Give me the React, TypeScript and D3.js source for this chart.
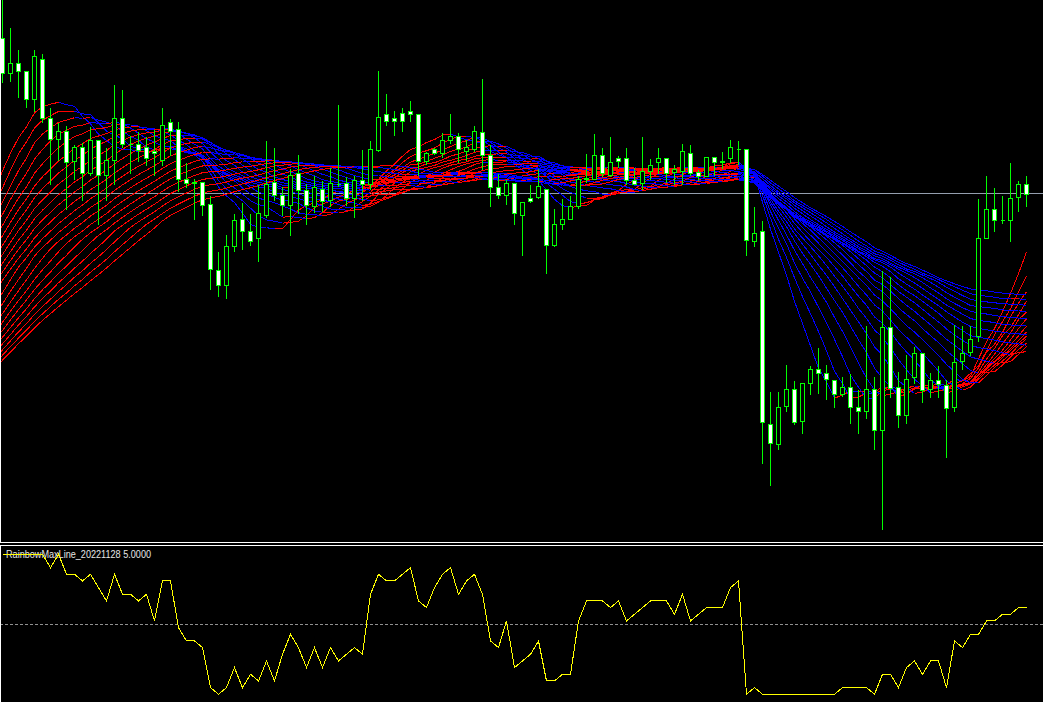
import React from "react";
import * as d3 from "d3";

// ---- Price data (visible bars, oldest first) ----
const opens = [562,527,536,528,501,541,481,461,469,439,453,427,460,425,440,481,456,455,453,448,440,477,470,421,418,418,396,329,315,354,381,368,361,385,418,404,395,426,410,393,411,400,416,417,401,420,416,450,486,481,487,488,485,439,451,447,459,463,449,451,468,445,412,405,417,385,402,403,411,355,375,381,393,421,421,445,425,441,441,419,417,429,437,441,428,429,447,428,423,443,437,441,451,451,359,369,175,156,194,211,179,217,230,227,219,205,213,193,189,211,170,273,213,185,223,247,211,219,215,193,239,248,263,362,391,379,379,403,416];
const highs = [605,572,551,530,551,546,493,477,475,456,458,473,461,453,516,511,465,469,463,471,492,482,479,437,422,418,404,349,366,386,397,386,416,460,452,414,432,446,417,425,419,433,495,423,425,451,459,530,506,490,493,500,485,448,453,468,487,468,461,474,522,456,426,421,417,398,415,432,411,392,401,405,425,447,466,453,463,445,453,433,463,441,453,441,436,457,455,431,443,443,448,461,460,451,393,380,208,209,236,220,217,235,252,236,219,224,227,211,275,224,330,324,229,246,254,248,228,235,221,276,275,274,402,425,413,404,437,419,425];
const lows = [517,519,502,493,489,477,415,440,390,421,400,425,376,400,415,452,427,439,435,425,435,445,409,412,381,385,310,304,302,349,351,355,339,383,400,385,365,387,376,388,389,393,414,395,382,400,411,449,475,465,469,479,425,436,446,443,457,437,440,449,431,393,401,396,376,345,397,401,327,353,371,381,392,418,421,423,423,433,416,415,411,421,427,418,416,415,425,420,423,425,432,437,436,345,354,137,115,151,189,175,167,205,207,201,193,204,177,167,182,151,71,203,173,177,217,197,203,203,143,189,231,245,259,361,368,377,359,389,393];
const closes = [527,536,529,501,543,481,461,469,437,453,427,460,425,440,481,456,455,450,442,447,475,469,421,417,417,395,331,315,354,380,369,359,387,416,405,395,425,410,395,412,399,417,415,401,419,415,451,483,479,479,479,485,439,447,447,460,463,451,452,469,445,413,405,417,387,397,399,414,355,375,381,393,421,422,445,426,437,439,419,416,429,435,441,427,430,449,427,423,443,437,439,453,451,360,367,178,157,193,211,178,217,230,227,221,205,213,193,189,211,170,273,212,185,221,247,210,219,216,192,238,247,261,361,391,379,379,401,416,406];

// Closes of the bars before the visible window (estimated, off-screen), used by the averages
const historyCloses = [118,125,112,121,128,115,119,124,110,122,127,116,120,113,126,118,123,111,129,117,121,200,207,214,220,227,234,241,248,255,262,268,275,282,289,296,303,310,316,323,330,360,375,390,405,420,435,450,460,470];

// Rainbow moving-average periods
const maPeriods = [10,12,14,16,18,20,22,24,26,28,30,32,34,36,38,40,42,44,46,48,50];

// Sub-window indicator values (RainbowMaxLine)
const indicatorValues = [21,21,21,21,21,21,19,21,18,18,17,18,16,14,18,15,15,14,15,11,17,17,10,8,8,7,1,0,1,4,1,3,2,5,2,6,9,7,4,7,4,7,5,6,7,6,15,18,17,17,18,19,14,13,16,18,19,15,17,18,15,8,7,11,4,5,6,8,2,2,3,3,11,14,14,14,13,14,11,12,13,14,14,14,12,15,11,12,13,13,13,16,17,0,1,0,0,0,0,0,0,0,0,0,0,1,1,1,1,0,3,3,1,4,5,3,5,5,1,8,7,9,9,11,11,12,12,13,13];
const indicatorLevel = 10.5;
const indicatorLabel = "RainbowMaxLine_20221128 5.0000";

const W = 1043;
const H = 702;

export default function App() {
  const n = closes.length;
  const x = d3.scaleLinear().domain([0, n - 1]).range([2.5, 1026.5]);
  const y = d3.scaleLinear().domain([60, 600]).range([540, 0]);
  const yi = d3.scaleLinear().domain([0, 21]).range([694.3, 554.3]);
  const snap = (v: number) => Math.floor(v) + 0.5;

  const all = [...historyCloses, ...closes];
  const off = historyCloses.length;

  const maPaths = maPeriods.map((p) => {
    const vals: { i: number; v: number }[] = [];
    for (let i = -1; i < n; i++) {
      const end = off + i;
      const start = end - p + 1;
      if (start < 0) continue;
      vals.push({ i, v: d3.mean(all.slice(start, end + 1)) as number });
    }
    let red = "";
    let blue = "";
    for (let k = 1; k < vals.length; k++) {
      const a = vals[k - 1];
      const b = vals[k];
      const seg = `M${x(a.i).toFixed(1)},${y(a.v).toFixed(1)}L${x(b.i).toFixed(1)},${y(b.v).toFixed(1)}`;
      if (b.v >= a.v) red += seg;
      else blue += seg;
    }
    return { p, red, blue };
  });

  const lastClose = closes[n - 1];
  const indLine = d3
    .line<number>()
    .x((_, i) => x(i))
    .y((v) => yi(v))(indicatorValues) as string;

  return (
    <svg
      width={W}
      height={H}
      style={{ position: "fixed", left: 0, top: 0, display: "block", background: "#000" }}
    >
      <defs>
        <clipPath id="mainClip">
          <rect x={1} y={0} width={W - 1} height={542} />
        </clipPath>
        <clipPath id="indClip">
          <rect x={1} y={546} width={W - 1} height={H - 546} />
        </clipPath>
      </defs>
      <rect x={0} y={0} width={W} height={H} fill="#000" />

      <g clipPath="url(#mainClip)">
        <line
          x1={0}
          x2={W}
          y1={snap(y(lastClose)) - 1}
          y2={snap(y(lastClose)) - 1}
          stroke="#949eae"
          strokeWidth={1}
          shapeRendering="crispEdges"
        />
        {maPaths.map((m) => (
          <g key={m.p}>
            <path d={m.blue} stroke="#0000ff" strokeWidth={1} fill="none" shapeRendering="crispEdges" />
            <path d={m.red} stroke="#ff0000" strokeWidth={1} fill="none" shapeRendering="crispEdges" />
          </g>
        ))}
        {closes.map((c, i) => {
          const o = opens[i];
          const cx = x(i);
          const top = snap(y(Math.max(o, c)));
          const bot = snap(y(Math.min(o, c)));
          const bear = c < o;
          return (
            <g key={i} shapeRendering="crispEdges">
              <line x1={cx} x2={cx} y1={snap(y(highs[i]))} y2={snap(y(lows[i]))} stroke="#00ff00" strokeWidth={1} />
              {bot - top < 1 ? (
                <line x1={cx - 2} x2={cx + 2} y1={top} y2={top} stroke="#00ff00" strokeWidth={1} />
              ) : (
                <rect
                  x={cx - 2}
                  y={top}
                  width={4}
                  height={bot - top}
                  fill={bear ? "#ffffff" : "#000000"}
                  stroke="#00ff00"
                  strokeWidth={1}
                />
              )}
            </g>
          );
        })}
      </g>

      {/* window frames */}
      <g stroke="#ffffff" strokeWidth={1} shapeRendering="crispEdges">
        <line x1={0.5} x2={0.5} y1={0} y2={542} />
        <line x1={0} x2={W} y1={542.5} y2={542.5} />
        <line x1={0} x2={W} y1={545.5} y2={545.5} />
        <line x1={0.5} x2={0.5} y1={545} y2={H} />
      </g>

      <g clipPath="url(#indClip)">
        <line
          x1={0}
          x2={W}
          y1={snap(yi(indicatorLevel))}
          y2={snap(yi(indicatorLevel))}
          stroke="#909090"
          strokeWidth={1}
          strokeDasharray="3,2"
          shapeRendering="crispEdges"
        />
        <text
          x={6}
          y={558}
          fill="#e6e6e6"
          fontSize={11}
          fontFamily="'Liberation Sans', Arial, sans-serif"
          textLength={145}
          lengthAdjust="spacingAndGlyphs"
        >
          {indicatorLabel}
        </text>
        <path d={indLine} stroke="#ffff00" strokeWidth={1} fill="none" shapeRendering="crispEdges" />
      </g>
    </svg>
  );
}
